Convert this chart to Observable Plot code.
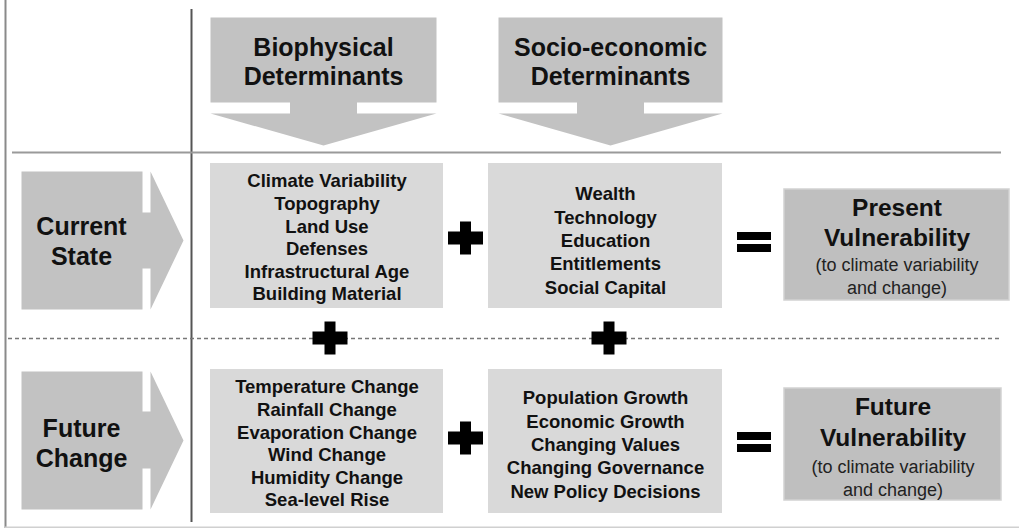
<!DOCTYPE html>
<html>
<head>
<meta charset="utf-8">
<script src="https://cdn.jsdelivr.net/npm/d3@7"></script>
<script src="https://cdn.jsdelivr.net/npm/@observablehq/plot@0.6"></script>
<style>
  html, body { margin: 0; padding: 0; background: #fff; }
  #chart { width: 1019px; height: 528px; overflow: hidden; }
</style>
</head>
<body>
<div id="chart"></div>
<script>
// ---- content ----
const headerLines = [["Biophysical", "Determinants"], ["Socio-economic", "Determinants"]];
const rowLabels = [["Current", "State"], ["Future", "Change"]];
const bioFactors = [
  ["Climate Variability", "Topography", "Land Use", "Defenses", "Infrastructural Age", "Building Material"],
  ["Temperature Change", "Rainfall Change", "Evaporation Change", "Wind Change", "Humidity Change", "Sea-level Rise"]
];
const socioFactors = [
  ["Wealth", "Technology", "Education", "Entitlements", "Social Capital"],
  ["Population Growth", "Economic Growth", "Changing Values", "Changing Governance", "New Policy Decisions"]
];
const outcomes = [["Present", "Vulnerability"], ["Future", "Vulnerability"]];
const outcomeNote = ["(to climate variability", "and change)"];

// ---- layout ----
const W = 1019, H = 528;
const FONT = "Liberation Sans, Arial, Helvetica, sans-serif";
const arrowFill = "#c2c2c2", boxFill = "#d9d9d9", outFill = "#bfbfbf";
const cols = [{x1: 210, x2: 443, hx1: 210, hx2: 436}, {x1: 488, x2: 722, hx1: 498, hx2: 722}];
const rows = [
  {cy: 240, by1: 163, by2: 308, oy1: 189, oy2: 300, ax: [21, 142, 150, 183], ay: [171, 309], neck: [212, 268],
   bioY: 181, bioStep: 22.6, socY: 194, socStep: 23.3, outY: [208, 238, 265, 287.5], labY: [226, 256], out: [784, 1009]},
  {cy: 440, by1: 369, by2: 513, oy1: 388, oy2: 500, ax: [21, 142, 150, 183], ay: [371, 509], neck: [411, 468],
   bioY: 387, bioStep: 22.6, socY: 398, socStep: 23.3, outY: [407, 438, 467, 489.5], labY: [428, 458], out: [784, 1001]}
];

// arrow polygons
const polys = [];
cols.forEach((c, i) => {
  const cx = (c.hx1 + c.hx2) / 2, n = 33.5;
  const pts = [[c.hx1, 17], [c.hx2, 17], [c.hx2, 102], [cx + n, 102], [cx + n, 113], [c.hx2, 113], [cx, 145],
               [c.hx1, 113], [cx - n, 113], [cx - n, 102], [c.hx1, 102], [c.hx1, 17]];
  pts.forEach(p => polys.push({id: "d" + i, x: p[0], y: p[1]}));
});
rows.forEach((r, i) => {
  const [a, b, c, t] = r.ax, [y1, y2] = r.ay, [n1, n2] = r.neck;
  const pts = [[a, y1], [b, y1], [b, n1], [c, n1], [c, y1], [t, (y1 + y2) / 2], [c, y2], [c, n2], [b, n2], [b, y2], [a, y2], [a, y1]];
  pts.forEach(p => polys.push({id: "r" + i, x: p[0], y: p[1]}));
});

// boxes
const boxes = [];
rows.forEach((r, i) => {
  boxes.push({x1: cols[0].x1, x2: cols[0].x2, y1: r.by1, y2: r.by2, fill: boxFill});
  boxes.push({x1: cols[1].x1, x2: cols[1].x2, y1: r.by1, y2: r.by2, fill: boxFill});
  boxes.push({x1: r.out[0], x2: r.out[1], y1: r.oy1, y2: r.oy2, fill: outFill});
});

// operator glyphs (plus / equals) as rects
const ops = [];
function plus(cx, cy) {
  ops.push({x1: cx - 17.5, x2: cx + 17.5, y1: cy - 6.5, y2: cy + 6.5});
  ops.push({x1: cx - 5.5, x2: cx + 5.5, y1: cy - 16.5, y2: cy + 16.5});
}
function equals(cx, cy) {
  ops.push({x1: cx - 17, x2: cx + 17, y1: cy - 10, y2: cy - 2});
  ops.push({x1: cx - 17, x2: cx + 17, y1: cy + 2, y2: cy + 10});
}
rows.forEach(r => { plus(465.5, r.cy - 2); equals(754, r.cy + 2); });
plus(330, 338); plus(609, 338);

// texts
const texts = [];
headerLines.forEach((ls, i) => {
  const cx = (cols[i].hx1 + cols[i].hx2) / 2;
  ls.forEach((t, k) => texts.push({x: cx, y: [47, 76][k], text: t, size: 25, weight: "bold"}));
});
rows.forEach((r, i) => {
  rowLabels[i].forEach((t, k) => texts.push({x: 81, y: r.labY[k], text: t, size: 25, weight: "bold"}));
  bioFactors[i].forEach((t, k) => texts.push({x: (cols[0].x1 + cols[0].x2) / 2, y: r.bioY + k * r.bioStep, text: t, size: 18.5, weight: "bold"}));
  socioFactors[i].forEach((t, k) => texts.push({x: (cols[1].x1 + cols[1].x2) / 2, y: r.socY + k * r.socStep, text: t, size: 18.5, weight: "bold"}));
  const ox = (r.out[0] + r.out[1]) / 2;
  outcomes[i].forEach((t, k) => texts.push({x: ox, y: r.outY[k], text: t, size: 24.5, weight: "bold"}));
  outcomeNote.forEach((t, k) => texts.push({x: ox, y: r.outY[2 + k], text: t, size: 18, weight: "normal"}));
});

const plot = Plot.plot({
  width: W, height: H,
  margin: 0,
  x: {domain: [0, W], range: [0, W], axis: null},
  y: {domain: [0, H], range: [0, H], axis: null},
  style: {fontFamily: FONT, background: "#fff"},
  marks: [
    // frame lines
    Plot.ruleX([5], {y1: 0, y2: H, stroke: "#8a8a8a", strokeWidth: 2}),
    Plot.ruleY([527], {x1: 5, x2: W, stroke: "#d0d0d0", strokeWidth: 2}),
    Plot.ruleX([191], {y1: 9, y2: 522, stroke: "#555", strokeWidth: 2}),
    Plot.ruleY([152], {x1: 12, x2: 1001, stroke: "#9a9a9a", strokeWidth: 2}),
    Plot.ruleY([338], {x1: 8, x2: 1000, stroke: "#777", strokeWidth: 1.5, strokeDasharray: "4,3"}),
    // arrows
    Plot.line(polys, {x: "x", y: "y", z: "id", fill: arrowFill, stroke: "none", curve: "linear"}),
    // boxes
    Plot.rect(boxes, {x1: "x1", x2: "x2", y1: "y1", y2: "y2", fill: "fill", stroke: d => d.fill === outFill ? "#d2d2d2" : "none", strokeWidth: 1.5}),
    // operators
    Plot.rect(ops, {x1: "x1", x2: "x2", y1: "y1", y2: "y2", fill: "#000"}),
    // texts
    Plot.text(texts.filter(d => d.weight === "bold"), {x: "x", y: "y", text: "text", fontSize: d => d.size, fontWeight: "bold", fill: "#111", textAnchor: "middle", lineAnchor: "middle"}),
    Plot.text(texts.filter(d => d.weight !== "bold"), {x: "x", y: "y", text: "text", fontSize: 18, fill: "#222", textAnchor: "middle", lineAnchor: "middle"})
  ]
});
document.getElementById("chart").appendChild(plot);
</script>
</body>
</html>
